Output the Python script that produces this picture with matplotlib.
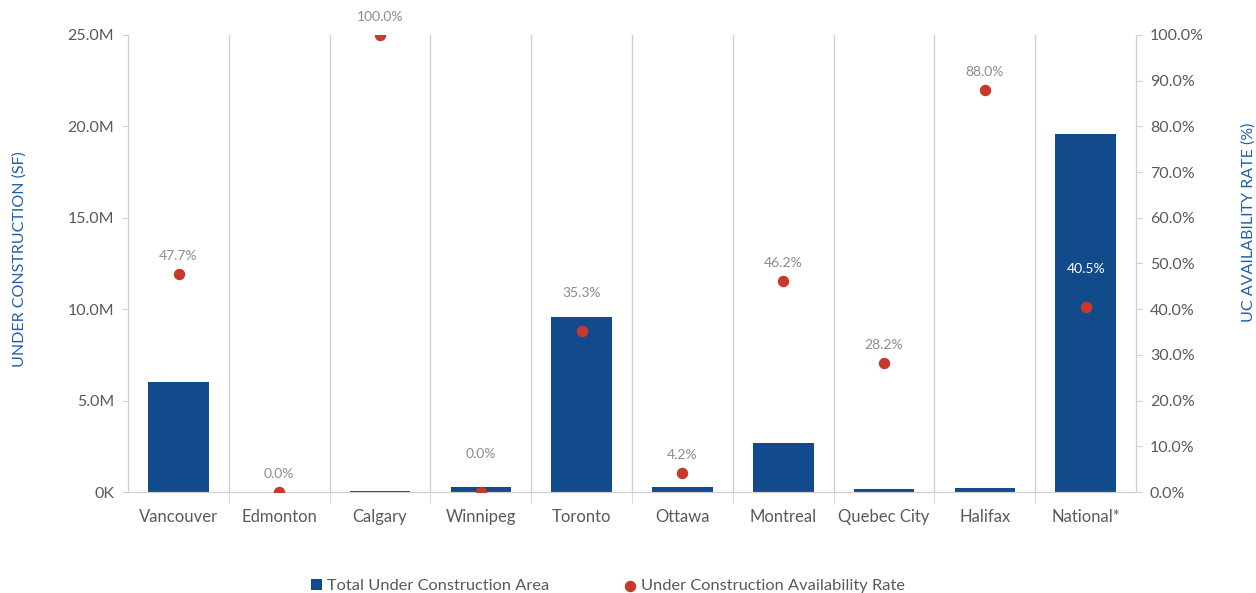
import matplotlib
matplotlib.use('Agg')
import matplotlib.pyplot as plt
from matplotlib.ticker import FuncFormatter, MultipleLocator
import numpy as np

plt.rcParams['font.family'] = ['Lato', 'DejaVu Sans']

cities = ["Vancouver", "Edmonton", "Calgary", "Winnipeg", "Toronto",
          "Ottawa", "Montreal", "Quebec City", "Halifax", "National*"]
# square feet under construction, millions
uc_area = [6.0, 0.0, 0.06, 0.27, 9.56, 0.29, 2.66, 0.19, 0.22, 19.57]
# availability rate, percent
uc_rate = [47.7, 0.0, 100.0, 0.0, 35.3, 4.2, 46.2, 28.2, 88.0, 40.5]

blue = "#114B8B"
red = "#C8392B"
grey_txt = "#595959"
label_grey = "#8C8C8C"
line_grey = "#D0D0D0"
axis_blue = "#1F5FAA"

fig = plt.figure(figsize=(12.56, 5.93), dpi=100)
ax = fig.add_axes([0.102, 0.1703, 0.8025, 0.7707])
ax2 = ax.twinx()

x = np.arange(len(cities))
ax.bar(x, uc_area, width=0.6, color=blue, zorder=2, label="Total Under Construction Area")
ax2.scatter(x, uc_rate, s=52, color=red, zorder=3, label="Under Construction Availability Rate")

# labels that sit on top of a bar are lifted clear of it
raised = {"Winnipeg", "Toronto", "National*"}
for xi, v in zip(x, uc_rate):
    name = cities[xi]
    c = "white" if name == "National*" else label_grey
    dy = 23 if name in raised else 8.5
    ax2.annotate(f"{v:.1f}%", (xi, v), xytext=(0, dy), textcoords="offset points",
                 ha="center", va="bottom", fontsize=10, color=c)

ax.set_xlim(-0.5, len(cities) - 0.5)
ax.set_ylim(0, 25)
ax2.set_ylim(0, 100)

ax.yaxis.set_major_locator(MultipleLocator(5))
ax.yaxis.set_major_formatter(FuncFormatter(lambda v, p: "0K" if v == 0 else f"{v:.1f}M"))
ax2.yaxis.set_major_locator(MultipleLocator(10))
ax2.yaxis.set_major_formatter(FuncFormatter(lambda v, p: f"{v:.1f}%"))

ax.set_xticks(x)
ax.set_xticklabels(cities)
ax.set_xticks(np.arange(0.5, len(cities) - 0.5, 1), minor=True)
ax.tick_params(axis='x', which='major', length=0, pad=12.5, labelsize=12, labelcolor=grey_txt)
ax.tick_params(axis='x', which='minor', length=8, color=line_grey)
ax.grid(True, axis='x', which='minor', color=line_grey, linewidth=1, zorder=0)

ax.tick_params(axis='y', length=4, color=line_grey, labelsize=11.5, labelcolor=grey_txt, pad=6)
ax2.tick_params(axis='y', length=4, color=line_grey, labelsize=11.5, labelcolor=grey_txt, pad=6)

for a in (ax, ax2):
    a.spines['top'].set_visible(False)
    for s in ('left', 'right', 'bottom'):
        a.spines[s].set_color(line_grey)

ax.set_ylabel("UNDER CONSTRUCTION (SF)", color=axis_blue, fontsize=11.5)
ax.yaxis.set_label_coords(-0.101, 0.51)
ax2.set_ylabel("UC AVAILABILITY RATE (%)", color=axis_blue, fontsize=11.5,
               rotation=90, va='center')
ax2.yaxis.set_label_coords(1.112, 0.59)

h1, l1 = ax.get_legend_handles_labels()
h2, l2 = ax2.get_legend_handles_labels()
fig.legend(h1 + h2, l1 + l2, loc='center', bbox_to_anchor=(0.484, 0.012), ncol=2,
           frameon=False, fontsize=11.8, labelcolor=grey_txt, columnspacing=4.6,
           handlelength=0.7, handletextpad=0.3, handleheight=0.7)

fig.savefig("out.png", dpi=100)
